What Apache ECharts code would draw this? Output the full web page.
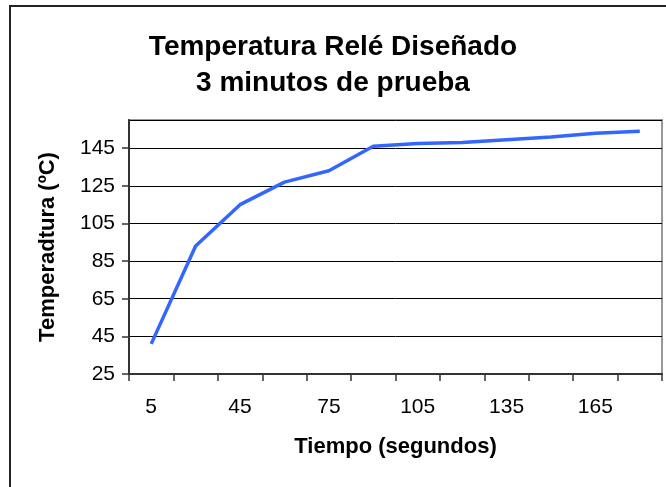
<!DOCTYPE html>
<html>
<head>
<meta charset="utf-8">
<script src="https://cdn.jsdelivr.net/npm/echarts@6/dist/echarts.min.js"></script>
<style>
  html, body { margin: 0; padding: 0; background: #fff; }
  #chart { width: 666px; height: 487px; }
</style>
</head>
<body>
<div id="chart"></div>
<script>
// tiempo (s) - la segunda categoria no lleva etiqueta en el original
const tiempos = ['5', '30', '45', '60', '75', '90', '105', '120', '135', '150', '165', '180'];
// temperatura medida (ºC)
const temperaturas = [41, 93, 115, 127, 133, 146, 147.5, 148, 149.5, 151, 153, 154];

const titulo = 'Temperatura Relé Diseñado\n3 minutos de prueba';
const nombreX = 'Tiempo (segundos)';
const nombreY = 'Temperadtura (ºC)';

const chart = echarts.init(document.getElementById('chart'));

const fuente = 'Liberation Sans, Arial, sans-serif';

chart.setOption({
  animation: false,
  backgroundColor: '#fff',
  title: {
    text: titulo,
    left: 'center',
    top: 24,
    textStyle: {
      fontFamily: fuente,
      fontSize: 28,
      fontWeight: 'bold',
      color: '#000',
      lineHeight: 36
    }
  },
  // marco exterior (derecha y abajo quedan fuera de la imagen)
  graphic: [{
    type: 'rect',
    shape: { x: 10, y: 6, width: 670, height: 500 },
    style: { fill: 'none', stroke: '#222', lineWidth: 2 },
    silent: true
  }],
  grid: {
    left: 129,
    right: 4,
    top: 120,
    bottom: 113,
    show: true,
    borderColor: '#999',
    borderWidth: 2
  },
  xAxis: {
    type: 'category',
    data: tiempos,
    boundaryGap: true,
    name: nombreX,
    nameLocation: 'middle',
    nameGap: 62,
    nameTextStyle: { fontFamily: fuente, fontSize: 22, fontWeight: 'bold', color: '#000' },
    axisLine: { lineStyle: { color: '#333', width: 2 } },
    axisTick: { show: true, interval: 0, length: 7, lineStyle: { color: '#333', width: 1.5 } },
    axisLabel: { interval: 1, margin: 23, fontFamily: fuente, fontSize: 21, color: '#000' },
    splitLine: { show: false }
  },
  yAxis: {
    type: 'value',
    min: 25,
    max: 160,
    interval: 20,
    name: nombreY,
    nameLocation: 'middle',
    nameGap: 70,
    nameTextStyle: { fontFamily: fuente, fontSize: 22, fontWeight: 'bold', color: '#000' },
    axisLine: { show: true, lineStyle: { color: '#333', width: 2 } },
    axisTick: { show: true, length: 7, lineStyle: { color: '#333', width: 1.5 } },
    axisLabel: { showMaxLabel: false, margin: 14, fontFamily: fuente, fontSize: 21, color: '#000' },
    splitLine: { lineStyle: { color: '#000', width: 1 } }
  },
  series: [{
    type: 'line',
    data: temperaturas,
    symbol: 'none',
    lineStyle: { color: '#3366ff', width: 3.5 }
  }]
});
</script>
</body>
</html>
